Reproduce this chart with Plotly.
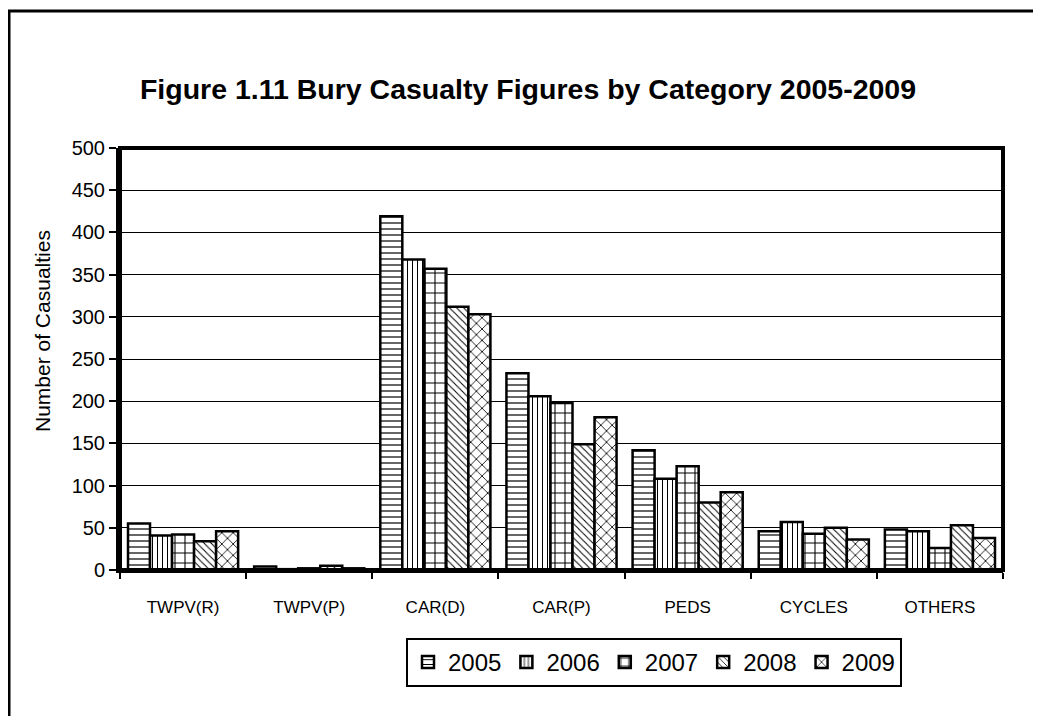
import plotly.graph_objects as go

categories = ["TWPV(R)", "TWPV(P)", "CAR(D)", "CAR(P)", "PEDS", "CYCLES", "OTHERS"]
years = ["2005", "2006", "2007", "2008", "2009"]
v2005 = [55, 4, 419, 233, 142, 46, 48]
v2006 = [41, 1, 368, 206, 108, 57, 46]
v2007 = [42, 2, 357, 198, 123, 43, 26]
v2008 = [34, 5, 312, 149, 80, 50, 53]
v2009 = [46, 2, 303, 181, 92, 36, 38]
series = [v2005, v2006, v2007, v2008, v2009]
patterns = ["-", "|", "+", "\\", "x"]
pattern_sizes = [6, 5, 10, 5, 8]

FONT = "Arial, Liberation Sans, sans-serif"

fig = go.Figure()
for yr, vals, pat, ps in zip(years, series, patterns, pattern_sizes):
    fig.add_trace(go.Bar(
        x=categories, y=vals, name=yr,
        marker=dict(color="white",
                    line=dict(color="black", width=2.5),
                    pattern=dict(shape=pat, fgcolor="black", bgcolor="white",
                                 size=ps, solidity=0.2, fillmode="replace")),
    ))

# figure coordinates (page body has an 8px margin)
OFF = 8
W, H = 1041 - OFF, 716 - OFF
L, R, T, B = 120 - OFF, 1003 - OFF, 148 - OFF, 570 - OFF
pw, ph = R - L, B - T

def px(x):
    return (x - OFF - L) / pw

def py(y):
    return (B - (y - OFF)) / ph

fig.update_layout(
    width=W, height=H,
    margin=dict(l=L, r=W - R, t=T, b=H - B),
    paper_bgcolor="white", plot_bgcolor="white",
    barmode="group", bargap=0.127, bargroupgap=0,
    font=dict(family=FONT, color="black"),
    title=dict(text="<b>Figure 1.11 Bury Casualty Figures by Category 2005-2009</b>",
               x=(528 - OFF) / W, xanchor="center", y=1 - (89 - OFF) / H, yanchor="middle",
               font=dict(size=28.5, family=FONT, color="black")),
    xaxis=dict(type="category", showgrid=False, ticks="outside", tickson="boundaries",
               ticklen=6, tickcolor="black", tickwidth=1.5,
               showline=True, linecolor="black", linewidth=3,
               ticklabelstandoff=20,
               tickfont=dict(size=17, family=FONT, color="black")),
    yaxis=dict(range=[0, 500], dtick=50, showgrid=True, gridcolor="black", gridwidth=1,
               ticks="outside", ticklen=7, tickcolor="black", tickwidth=1.5,
               showline=True, linecolor="black", linewidth=4,
               zeroline=False,
               tickfont=dict(size=20, family=FONT, color="black")),
    legend=dict(orientation="h", x=px(654), xanchor="center", y=py(638), yanchor="top",
                bordercolor="black", borderwidth=2, bgcolor="white",
                font=dict(size=24, family=FONT, color="black"),
                itemwidth=30, tracegroupgap=0),
    showlegend=True,
)

# y-axis title
fig.add_annotation(text="Number of Casualties", textangle=-90, xref="paper", yref="paper",
                   x=px(42), y=py(331), xanchor="center", yanchor="middle", showarrow=False,
                   font=dict(size=21, family=FONT, color="black"))

# plot area frame (thick top/right/left)
fig.add_shape(type="rect", xref="paper", yref="paper", x0=0, x1=1, y0=0, y1=1,
              line=dict(color="black", width=4), fillcolor="rgba(0,0,0,0)", layer="above")
# outer chart frame (left and top edges visible)
fig.add_shape(type="line", xref="paper", yref="paper", x0=px(9), x1=px(9), y0=py(10), y1=py(740),
              line=dict(color="black", width=3))
fig.add_shape(type="line", xref="paper", yref="paper", x0=px(8), x1=px(1060), y0=py(11), y1=py(11),
              line=dict(color="black", width=3))

fig.write_html("out.html")
